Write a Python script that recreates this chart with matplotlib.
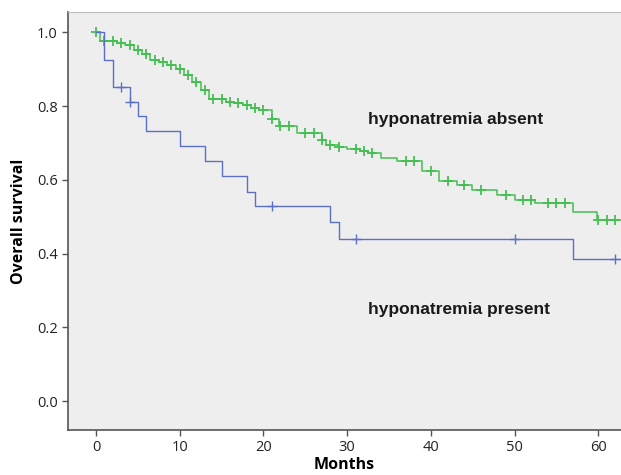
import numpy as np
import matplotlib.pyplot as plt

# hyponatremia present (blue)
blue_times = [0, 1, 2, 4, 5, 6, 10, 13, 15, 18, 19, 28, 29, 57, 62.7]
blue_surv = [1.0, 0.926, 0.852, 0.812, 0.772, 0.732, 0.691, 0.651, 0.610, 0.567, 0.528, 0.485, 0.44, 0.386, 0.386]
blue_cens = [3, 4, 21, 31, 50, 62]

# hyponatremia absent (green)
green_times = [0, 0.5, 2.5, 3.5, 4.5, 5.5, 6.5, 7.5, 8.5, 9.5, 10.5, 11.5, 12.5, 13.5,
               15.5, 16.5, 17.5, 18.5, 19.5, 21.0, 21.9, 24.0, 27.0, 27.5, 29.0, 30.0,
               31.5, 32.5, 34.0, 36.0, 38.9, 41.0, 43.1, 44.9, 47.9, 50.1, 52.5, 57.0,
               59.8, 62.7]
green_surv = [1.0, 0.976, 0.972, 0.965, 0.952, 0.942, 0.926, 0.920, 0.910, 0.901, 0.884,
              0.866, 0.843, 0.818, 0.812, 0.808, 0.802, 0.795, 0.789, 0.766, 0.745, 0.727,
              0.707, 0.694, 0.690, 0.684, 0.678, 0.673, 0.660, 0.650, 0.624, 0.596, 0.585,
              0.572, 0.558, 0.545, 0.537, 0.512, 0.492, 0.492]
green_cens = [0, 1, 2, 3, 4, 5, 6, 7, 8, 9, 10, 11, 12, 13, 14, 15, 16, 17, 18, 19, 20,
              21, 22, 23, 25, 26, 27, 28, 29, 31, 32, 33, 37, 38, 40, 42, 44, 46, 49, 51,
              52, 54, 55, 56, 60, 61, 62]

blue_col = '#5b6fc4'
green_col = '#45bf52'


def surv_at(times, surv, t):
    # value of the step curve at time t
    idx = np.searchsorted(times, t, side='right') - 1
    return np.array(surv)[idx]


fig = plt.figure(figsize=(6.21, 4.75), dpi=100)
ax = fig.add_axes([0.1095, 0.0947, 0.8905, 0.880])
ax.set_facecolor('#eeeeee')

ax.step(green_times, green_surv, where='post', color=green_col, lw=1.1)
ax.plot(green_cens, surv_at(green_times, green_surv, green_cens), '+', color=green_col,
        ms=7, mew=1.3)
ax.step(blue_times, blue_surv, where='post', color=blue_col, lw=1.0)
ax.plot(blue_cens, surv_at(blue_times, blue_surv, blue_cens), '+', color=blue_col,
        ms=7, mew=1.0)

ax.set_xlim(-3.35, 62.72)
ax.set_ylim(-0.0786, 1.055)
ax.set_xticks(range(0, 61, 10))
ax.set_yticks([0.0, 0.2, 0.4, 0.6, 0.8, 1.0])
ax.set_yticklabels(['0.0', '0.2', '0.4', '0.6', '0.8', '1.0'])

for s in ['left', 'bottom']:
    ax.spines[s].set_color('#555555')
    ax.spines[s].set_linewidth(1.2)
ax.spines['top'].set_color('#bbbbbb')
ax.spines['top'].set_linewidth(0.8)
ax.spines['right'].set_visible(False)
ax.tick_params(direction='out', length=4, width=1.0, color='#555555',
               labelsize=10.5, labelcolor='#222222')
for lab in ax.get_xticklabels() + ax.get_yticklabels():
    lab.set_family('Open Sans')

ax.set_xlabel('Months', fontsize=11.5, fontweight='bold', family='Open Sans', labelpad=1)
ax.set_ylabel('Overall survival', fontsize=11.5, fontweight='bold', family='Open Sans',
              labelpad=7)

ax.text(32.5, 0.764, 'hyponatremia absent', fontsize=12.5, fontweight='bold',
        family='Liberation Sans', color='#1a1a1a', va='center', ha='left')
ax.text(32.5, 0.247, 'hyponatremia present', fontsize=12.5, fontweight='bold',
        family='Liberation Sans', color='#1a1a1a', va='center', ha='left')

fig.savefig('out.png', dpi=100)
